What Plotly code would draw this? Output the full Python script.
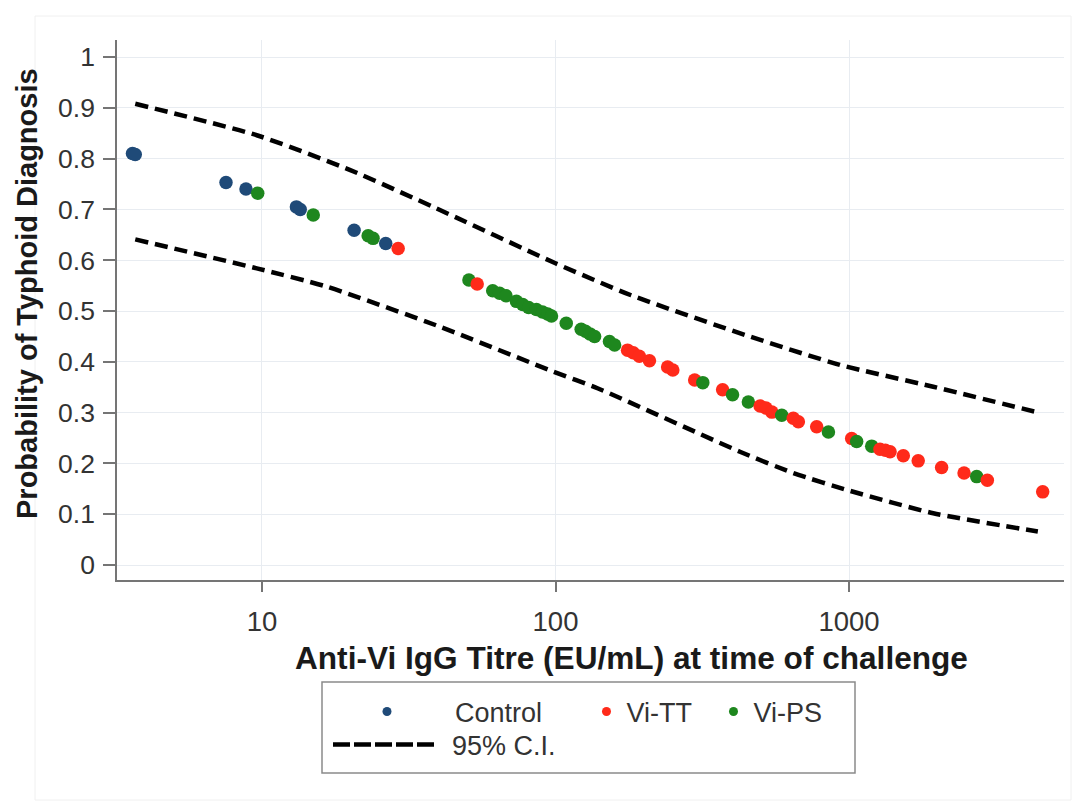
import plotly.graph_objects as go

# ---------------- data ----------------
control_titre = [3.62, 3.70, 7.54, 8.82, 13.1, 13.5, 20.6, 26.4]
control_prob = [0.810, 0.808, 0.753, 0.740, 0.705, 0.700, 0.659, 0.633]

vitt_titre = [29.1, 54.1, 176, 184, 193, 209, 241, 251, 298, 371, 498, 521, 546,
              646, 672, 776, 1021, 1275, 1330, 1380, 1531, 1721, 2068, 2466, 2960, 4570]
vitt_prob = [0.623, 0.553, 0.423, 0.418, 0.411, 0.402, 0.390, 0.384, 0.364, 0.345, 0.313,
             0.309, 0.301, 0.289, 0.282, 0.272, 0.249, 0.228, 0.226, 0.223, 0.215, 0.205,
             0.192, 0.181, 0.167, 0.144]

vips_titre = [9.67, 14.95, 23.0, 23.9, 50.7, 61.1, 64.5, 67.8, 73.6, 77.3, 81.0,
              86.1, 90.3, 94.0, 96.9, 108.8, 122.3, 126.5, 131.0, 135.9, 152.7, 159,
              317.6, 401, 454, 590, 851, 1062, 1195, 2723]
vips_prob = [0.732, 0.689, 0.648, 0.643, 0.561, 0.540, 0.535, 0.530, 0.519, 0.513, 0.507,
             0.503, 0.498, 0.494, 0.490, 0.476, 0.464, 0.460, 0.455, 0.450, 0.440, 0.433,
             0.359, 0.335, 0.321, 0.295, 0.262, 0.243, 0.234, 0.174]

ci_upper_titre = [3.7, 9.6, 19.9, 39.3, 100, 181, 442, 931, 1937, 4500]
ci_upper = [0.908, 0.846, 0.778, 0.702, 0.594, 0.531, 0.453, 0.394, 0.351, 0.299]

ci_lower_titre = [3.7, 9.6, 16.6, 40, 98, 139, 425, 646, 1008, 1937, 4400]
ci_lower = [0.641, 0.584, 0.548, 0.470, 0.381, 0.348, 0.223, 0.181, 0.146, 0.102, 0.066]

x_tick_values = [10, 100, 1000]
x_tick_labels = ["10", "100", "1000"]
y_tick_values = [0, 0.1, 0.2, 0.3, 0.4, 0.5, 0.6, 0.7, 0.8, 0.9, 1]
y_tick_labels = ["0", "0.1", "0.2", "0.3", "0.4", "0.5", "0.6", "0.7", "0.8", "0.9", "1"]

# ---------------- styling ----------------
C_CONTROL = "#1f4a78"
C_VITT = "#ff2a1a"
C_VIPS = "#1e871e"
GRID = "#e8ecf1"
AXIS = "#757575"
FONT = "Liberation Sans, Arial, Helvetica, sans-serif"

# points drawn in order of titre (later points overlap earlier ones)
pts = ([(x, y, C_CONTROL) for x, y in zip(control_titre, control_prob)] +
       [(x, y, C_VITT) for x, y in zip(vitt_titre, vitt_prob)] +
       [(x, y, C_VIPS) for x, y in zip(vips_titre, vips_prob)])
pts.sort(key=lambda p: p[0])

fig = go.Figure()
dash_line = dict(color="black", width=4.5, dash="13px,7px", shape="spline", smoothing=0.6)

fig.add_trace(go.Scatter(x=ci_upper_titre, y=ci_upper, mode="lines", line=dash_line,
                         showlegend=False, hoverinfo="skip"))
fig.add_trace(go.Scatter(x=ci_lower_titre, y=ci_lower, mode="lines", line=dash_line,
                         showlegend=False, hoverinfo="skip"))
fig.add_trace(go.Scatter(x=[p[0] for p in pts], y=[p[1] for p in pts], mode="markers",
                         marker=dict(size=13.5, color=[p[2] for p in pts], line=dict(width=0)),
                         showlegend=False))

# legend entries
fig.add_trace(go.Scatter(x=[None], y=[None], mode="markers", name="Control",
                         marker=dict(size=9, color=C_CONTROL), legend="legend"))
fig.add_trace(go.Scatter(x=[None], y=[None], mode="markers", name="Vi-TT",
                         marker=dict(size=9, color=C_VITT), legend="legend2"))
fig.add_trace(go.Scatter(x=[None], y=[None], mode="markers", name="Vi-PS",
                         marker=dict(size=9, color=C_VIPS), legend="legend3"))
fig.add_trace(go.Scatter(x=[None], y=[None], mode="lines", name="95% C.I.",
                         line=dict(color="black", width=4.5,
                                   dash="17px,4px,17px,4px,17px,4px,17px,4px,17px,40px"),
                         legend="legend4"))

L, R, T, B = 117, 12, 40, 223
W, H = 1076, 803
PW, PH = W - L - R, H - T - B


def px_x(px):
    return (px - L) / PW


def px_y(py):
    return (H - B - py) / PH


leg_common = dict(xanchor="left", yanchor="middle", bgcolor="rgba(0,0,0,0)", borderwidth=0,
                  font=dict(family=FONT, size=27, color="#333333"), orientation="v")

fig.update_layout(
    width=W, height=H, autosize=False,
    margin=dict(l=L, r=R, t=T, b=B),
    paper_bgcolor="white", plot_bgcolor="white",
    font=dict(family=FONT, color="#333333"),
    xaxis=dict(type="log", range=[0.506, 3.7325], tickvals=x_tick_values, ticktext=x_tick_labels,
               ticks="outside", ticklen=10, tickwidth=1.5, tickcolor=AXIS,
               showline=True, linecolor=AXIS, linewidth=1.5, automargin=False,
               showgrid=True, gridcolor=GRID, gridwidth=1, zeroline=False,
               tickfont=dict(family=FONT, size=27.5, color="#333333"), ticklabelstandoff=6),
    yaxis=dict(range=[-0.0295, 1.0335], tickvals=y_tick_values, ticktext=y_tick_labels,
               ticks="outside", ticklen=12, tickwidth=1.5, tickcolor=AXIS,
               showline=True, linecolor=AXIS, linewidth=1.5, automargin=False,
               showgrid=True, gridcolor=GRID, gridwidth=1, zeroline=False,
               tickfont=dict(family=FONT, size=26.5, color="#333333"), ticklabelstandoff=3),
    legend=dict(x=px_x(319), y=px_y(712), itemwidth=126, **leg_common),
    legend2=dict(x=px_x(586.5), y=px_y(712), **leg_common),
    legend3=dict(x=px_x(713.5), y=px_y(712), **leg_common),
    legend4=dict(x=px_x(328), y=px_y(745), itemwidth=114, **leg_common),
    showlegend=True,
)

# axis titles
fig.add_annotation(text="<b>Anti-Vi IgG Titre (EU/mL) at time of challenge</b>",
                   xref="paper", yref="paper", x=px_x(631.5), y=px_y(658),
                   xanchor="center", yanchor="middle", showarrow=False,
                   font=dict(family=FONT, size=31.6, color="#1a1a1a"))
fig.add_annotation(text="<b>Probability of Typhoid Diagnosis</b>",
                   xref="paper", yref="paper", x=px_x(27), y=px_y(294), textangle=-90,
                   xanchor="center", yanchor="middle", showarrow=False,
                   font=dict(family=FONT, size=29, color="#1a1a1a"))

# legend frame and faint outer graph frame
fig.add_shape(type="rect", xref="paper", yref="paper",
              x0=px_x(322), x1=px_x(855), y0=px_y(773), y1=px_y(682),
              line=dict(color="#8a8a8a", width=1.5), fillcolor="rgba(0,0,0,0)", layer="below")
fig.add_shape(type="rect", xref="paper", yref="paper",
              x0=px_x(35), x1=px_x(1071), y0=px_y(800), y1=px_y(16),
              line=dict(color="#f0f0f0", width=1), fillcolor="rgba(0,0,0,0)", layer="below")

fig.write_html("out.html", config={"displayModeBar": False},
               post_script="document.body.style.margin='0';")
